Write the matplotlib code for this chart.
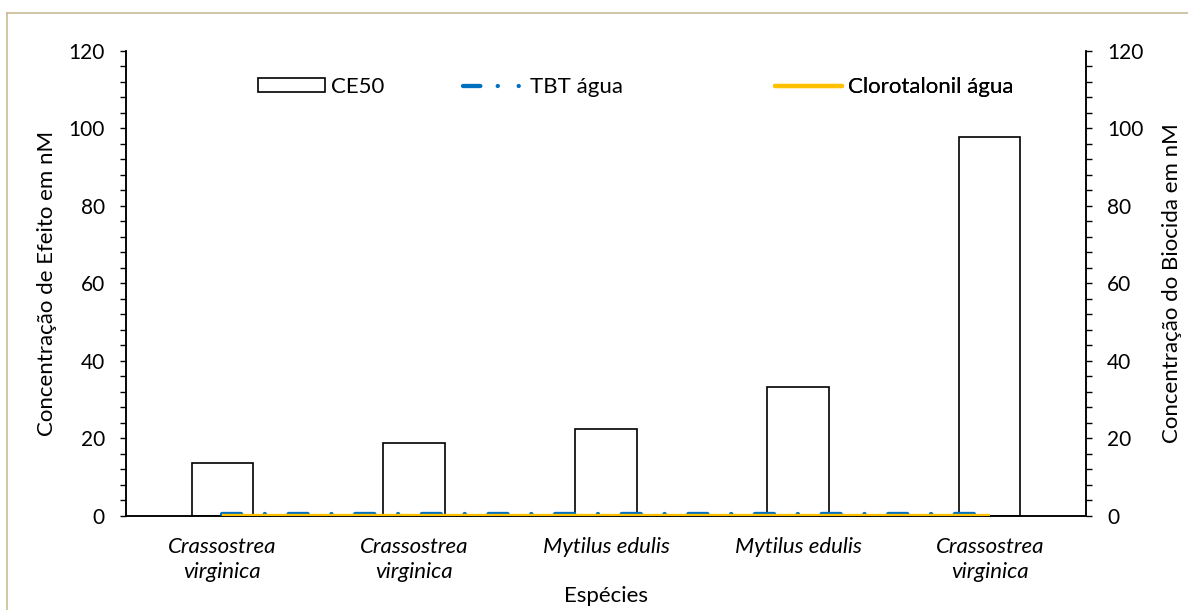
import matplotlib
matplotlib.use("Agg")
import matplotlib.pyplot as plt
import numpy as np
from matplotlib.lines import Line2D
from matplotlib.patches import Patch

# data
especies = ["Crassostrea\nvirginica", "Crassostrea\nvirginica", "Mytilus edulis",
            "Mytilus edulis", "Crassostrea\nvirginica"]
ce50 = [13.7, 18.8, 22.5, 33.3, 97.8]
tbt_agua = [0.6, 0.6, 0.6, 0.6, 0.6]
clorotalonil_agua = [0.0, 0.0, 0.0, 0.0, 0.0]

plt.rcParams['font.family'] = ['Lato', 'DejaVu Sans']
plt.rcParams['lines.scale_dashes'] = False
fs = 16
tfs = 15

fig = plt.figure(figsize=(11.88, 6.10), dpi=100)
ax = fig.add_axes([0.1061, 0.1541, 0.808, 0.7623])
ax2 = ax.twinx()

x = np.arange(len(especies))
ax.bar(x, ce50, 0.318, color='white', edgecolor='black', linewidth=1.2, zorder=2)

blue = '#0070C0'
yellow = '#FFC000'
lw = 3.1
ax2.plot(x, tbt_agua, color=blue, linewidth=lw, dashes=(13.7, 17.1, 0.07, 17.1),
         dash_capstyle='round', zorder=3)
ax2.plot(x, clorotalonil_agua, color=yellow, linewidth=lw, solid_capstyle='butt', zorder=4)

for a in (ax, ax2):
    a.set_ylim(0, 120)
    a.set_yticks(np.arange(0, 121, 20))
    a.set_yticks(np.arange(0, 121, 4), minor=True)
    a.spines['top'].set_visible(False)
    a.tick_params(axis='y', which='both', direction='out', length=4.3, width=1,
                  labelsize=tfs, pad=11)
ax.set_xlim(-0.5, 4.5)
ax.set_xticks(x)
ax.set_xticklabels(especies, fontsize=fs, style='italic', va='top', linespacing=1.3)
ax.tick_params(axis='x', length=0, pad=15)
for s in ['left', 'right', 'bottom']:
    ax.spines[s].set_linewidth(1.1)
    ax2.spines[s].set_linewidth(1.1)

ax.set_xlabel("Espécies", fontsize=fs, labelpad=3)
ax.set_ylabel("Concentração de Efeito em nM", fontsize=fs, labelpad=8)
ax2.set_ylabel("Concentração do Biocida em nM", fontsize=fs, labelpad=13)

# legend entries placed separately, like the original
entries = [
    (Patch(facecolor='white', edgecolor='black', linewidth=1.2), "CE50", 0.1375),
    (Line2D([], [], color=blue, linewidth=lw, dashes=(12.5, 12.5, 0.07, 15, 0.07, 20),
            dash_capstyle='round'), "TBT água", 0.351),
    (Line2D([], [], color=yellow, linewidth=lw, solid_capstyle='round'),
     "Clorotalonil água", 0.676),
]
for h, lab, xp in entries:
    leg = ax2.legend([h], [lab], loc='center left', bbox_to_anchor=(xp, 0.9226),
                     frameon=False, fontsize=fs, borderpad=0, borderaxespad=0,
                     handlelength=3.0 if lab != "TBT água" else 2.7,
                     handletextpad=0.3, handleheight=0.55)
    ax2.add_artist(leg)

# outer border of the chart area
fig.add_artist(Line2D([7 / 1188, 7 / 1188], [0, 597 / 610], color='#C8BC96', linewidth=1.2))
fig.add_artist(Line2D([7 / 1188, 1], [597 / 610, 597 / 610], color='#C8BC96', linewidth=1.2))

fig.savefig("out.png", dpi=100)
